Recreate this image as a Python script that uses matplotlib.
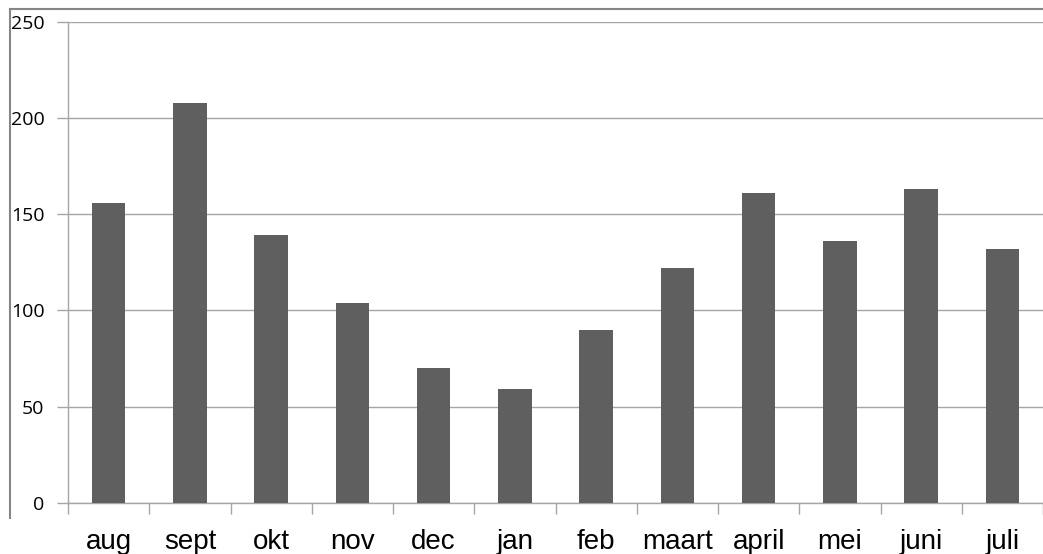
import matplotlib.pyplot as plt
import numpy as np
from matplotlib.lines import Line2D

MONTHS = ["aug", "sept", "okt", "nov", "dec", "jan", "feb",
          "maart", "april", "mei", "juni", "juli"]
COUNTS = [156, 208, 139, 104, 70, 59, 90, 122, 161, 136, 163, 132]
Y_TICKS = [0, 50, 100, 150, 200, 250]

BAR_COLOR = "#5f5f5f"
GRID_COLOR = "#a6a6a6"
FRAME_COLOR = "#868686"

W, H = 1043, 554

fig = plt.figure(figsize=(W / 100, H / 100), dpi=100)
ax = fig.add_axes([68 / W, 1 - 502.7 / H, 1 - 68 / W, (502.7 - 21.7) / H])

x = np.arange(len(MONTHS))
ax.bar(x, COUNTS, width=0.41, color=BAR_COLOR, zorder=3)

ax.set_xlim(-0.5, len(MONTHS) - 0.5)
ax.set_ylim(0, 250)

# grid + axes
ax.set_yticks(Y_TICKS)
ax.set_yticklabels([str(v) for v in Y_TICKS], family="Open Sans", fontsize=14)
ax.yaxis.grid(True, color=GRID_COLOR, linewidth=1.0, zorder=0)
ax.tick_params(axis="y", length=8, width=1.0, color=GRID_COLOR, pad=9)

ax.set_xticks(x)
ax.set_xticklabels(MONTHS, family="Liberation Sans", fontsize=20)
ax.set_xticks(np.arange(len(MONTHS) + 1) - 0.5, minor=True)
ax.tick_params(axis="x", which="major", length=0, pad=19)
ax.tick_params(axis="x", which="minor", length=8, width=1.0, color=GRID_COLOR)

for side in ["top", "right"]:
    ax.spines[side].set_visible(False)
for side in ["left", "bottom"]:
    ax.spines[side].set_color(GRID_COLOR)
    ax.spines[side].set_linewidth(1.0)

# outer chart frame (partially visible in the crop)
fig.add_artist(Line2D([9.5 / W, 1], [1 - 9 / H, 1 - 9 / H],
                      transform=fig.transFigure, color=FRAME_COLOR, linewidth=1.5))
fig.add_artist(Line2D([9.5 / W, 9.5 / W], [1 - 9 / H, 1 - 518 / H],
                      transform=fig.transFigure, color=FRAME_COLOR, linewidth=1.5))

fig.savefig("out.png", dpi=100)
